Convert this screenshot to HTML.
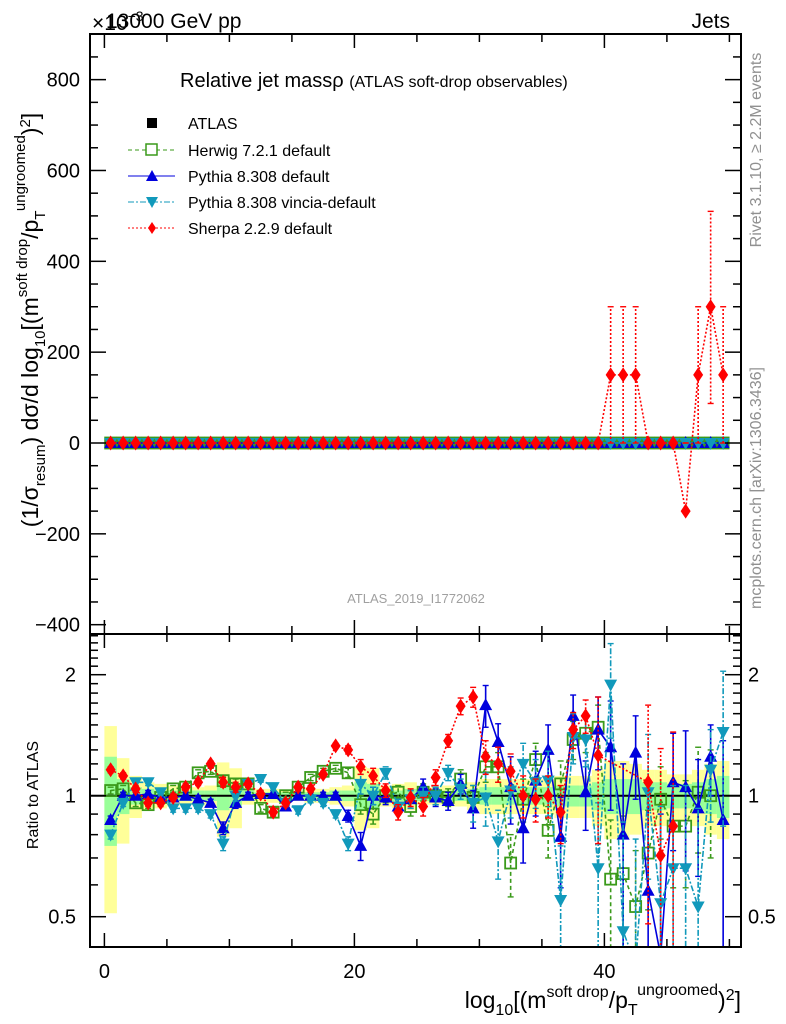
<!DOCTYPE html>
<html><head><meta charset="utf-8"><style>
html,body{margin:0;padding:0;background:#fff;overflow:hidden;width:786px;height:1024px}
svg{display:block;font-family:"Liberation Sans",Arial,sans-serif}
</style></head><body>
<svg id="chart" width="786" height="1024" viewBox="0 0 786 1024" xmlns="http://www.w3.org/2000/svg">
<defs>
<clipPath id="cm"><rect x="90" y="34" width="651" height="600"/></clipPath>
<clipPath id="cr"><rect x="90" y="634" width="651" height="313"/></clipPath>
</defs>
<g id="bands" clip-path="url(#cr)"></g>
<g id="ratio" clip-path="url(#cr)"></g>
<g id="main" clip-path="url(#cm)"></g>
<g id="axes"></g>
<text x="92" y="30" font-size="21">×10<tspan font-size="14" dy="-9">−3</tspan></text>
<text x="106" y="28" font-size="21">13000 GeV pp</text>
<text x="730" y="28" font-size="21" text-anchor="end">Jets</text>
<text x="180" y="87" font-size="20">Relative jet massρ <tspan font-size="16">(ATLAS soft-drop observables)</tspan></text>
<text x="416" y="603" font-size="13" fill="#a0a0a0" text-anchor="middle">ATLAS_2019_I1772062</text>
<text transform="translate(761,150) rotate(-90)" font-size="16" fill="#909090" text-anchor="middle">Rivet 3.1.10, ≥ 2.2M events</text>
<text transform="translate(761,488) rotate(-90)" font-size="16" fill="#909090" text-anchor="middle">mcplots.cern.ch [arXiv:1306.3436]</text>
<text transform="translate(38,320) rotate(-90)" font-size="23" text-anchor="middle">(1/σ<tspan font-size="15" dy="7">resum</tspan><tspan dy="-7">) dσ/d log</tspan><tspan font-size="15" dy="7">10</tspan><tspan dy="-7">[(m</tspan><tspan font-size="15" dy="-11">soft drop</tspan><tspan dy="11">/p</tspan><tspan font-size="15" dy="7">T</tspan><tspan font-size="15" dy="-20">ungroomed</tspan><tspan dy="13">)</tspan><tspan font-size="15" dy="-8">2</tspan><tspan dy="8">]</tspan></text>
<text transform="translate(38,795) rotate(-90)" font-size="16" text-anchor="middle">Ratio to ATLAS</text>
<text x="741" y="1008" font-size="23" text-anchor="end">log<tspan font-size="16" dy="7">10</tspan><tspan dy="-7">[(m</tspan><tspan font-size="16" dy="-11">soft drop</tspan><tspan dy="11">/p</tspan><tspan font-size="16" dy="7">T</tspan><tspan font-size="16" dy="-20">ungroomed</tspan><tspan dy="13">)</tspan><tspan font-size="16" dy="-8">2</tspan><tspan dy="8">]</tspan></text>
<g id="legend">
<rect x="147" y="118" width="10" height="10" fill="#000"/>
<text x="188" y="129" font-size="16">ATLAS</text>
<line x1="128" y1="150" x2="175" y2="150" stroke="#3a9a1a" stroke-dasharray="4,3"/>
<rect x="146" y="144" width="11" height="11" fill="#fff" stroke="#3a9a1a" stroke-width="1.5"/>
<text x="188" y="156" font-size="16">Herwig 7.2.1 default</text>
<line x1="128" y1="176" x2="175" y2="176" stroke="#0000dd"/>
<path d="M152,170 L158,181 L146,181 Z" fill="#0000dd"/>
<text x="188" y="182" font-size="16">Pythia 8.308 default</text>
<line x1="128" y1="202" x2="175" y2="202" stroke="#1199bb" stroke-dasharray="6,2,2,2"/>
<path d="M146,197 L158,197 L152,208 Z" fill="#1199bb"/>
<text x="188" y="208" font-size="16">Pythia 8.308 vincia-default</text>
<line x1="128" y1="228" x2="175" y2="228" stroke="#ff0000" stroke-dasharray="2,2"/>
<path d="M152,222 L156,228 L152,234 L148,228 Z" fill="#ff0000"/>
<text x="188" y="234" font-size="16">Sherpa 2.2.9 default</text>
</g>
</svg>
<script>
// ---------- data ----------
const nBins = 50;
const mainYTicks = [-400, -200, 0, 200, 400, 600, 800];
const xTicks = [0, 20, 40];
const ratioTicks = [0.5, 1, 2];
const ratioTickLabels = ["0.5", "1", "2"];
const atlasMain = new Array(50).fill(0);
const sherpaMain = [0,0,0,0,0,0,0,0,0,0, 0,0,0,0,0,0,0,0,0,0, 0,0,0,0,0,0,0,0,0,0, 0,0,0,0,0,0,0,0,0,0, 150,150,150,0,0,0,-150,150,300,150];
const sherpaMainErrLo = [0,0,0,0,0,0,0,0,0,0, 0,0,0,0,0,0,0,0,0,0, 0,0,0,0,0,0,0,0,0,0, 0,0,0,0,0,0,0,0,0,0, 150,150,150,0,0,0,150,150,213,150];
const sherpaMainErrHi = [0,0,0,0,0,0,0,0,0,0, 0,0,0,0,0,0,0,0,0,0, 0,0,0,0,0,0,0,0,0,0, 0,0,0,0,0,0,0,0,0,0, 150,150,150,0,0,0,150,150,210,150];
const yellowBand = [1.49,1.24,1.12,1.08,1.07,1.06,1.05,1.05,1.06,1.21,1.17,1.05,1.04,1.04,1.03,1.03,1.04,1.04,1.05,1.06,1.18,1.17,1.06,1.07,1.08,1.05,1.05,1.06,1.06,1.08,1.1,1.1,1.1,1.1,1.1,1.1,1.12,1.12,1.12,1.16,1.22,1.22,1.2,1.16,1.16,1.13,1.13,1.16,1.2,1.22];
const greenBand = [1.25,1.10,1.05,1.04,1.03,1.03,1.03,1.03,1.03,1.08,1.06,1.03,1.02,1.02,1.02,1.02,1.02,1.02,1.03,1.03,1.08,1.07,1.03,1.03,1.04,1.03,1.03,1.03,1.03,1.04,1.05,1.05,1.05,1.05,1.05,1.05,1.06,1.06,1.06,1.08,1.1,1.1,1.1,1.08,1.08,1.07,1.07,1.08,1.1,1.12];
const herwigRatio = [1.03,1.04,0.96,0.95,0.99,1.04,1.05,1.14,1.15,1.09,1.07,1.07,0.93,0.91,1.0,1.05,1.11,1.15,1.17,1.14,0.95,0.9,1.0,1.02,0.94,1.02,1.0,0.99,1.10,0.99,1.18,1.18,0.68,0.98,1.23,0.82,1.07,1.38,1.43,1.48,0.62,0.64,0.53,0.72,0.98,0.84,0.84,1.02,1.0,null];
const herwigErr = [0.02,0.02,0.02,0.02,0.02,0.02,0.02,0.02,0.02,0.03,0.03,0.02,0.02,0.02,0.02,0.02,0.02,0.02,0.02,0.03,0.05,0.05,0.04,0.04,0.05,0.05,0.05,0.05,0.06,0.07,0.1,0.1,0.12,0.12,0.12,0.12,0.15,0.15,0.15,0.2,0.25,0.25,0.2,0.2,0.2,0.25,0.25,0.3,0.3,0.3];
const pythiaRatio = [0.87,1.0,1.0,1.01,0.99,0.99,1.0,0.98,0.96,0.83,0.96,1.0,1.01,1.01,0.94,1.0,1.0,1.0,1.0,0.89,0.75,1.0,0.99,0.94,0.98,1.05,0.99,0.97,1.07,0.93,1.68,1.36,1.05,0.83,1.09,1.3,0.79,1.58,1.02,1.46,1.32,0.8,1.28,0.58,0.40,1.08,1.05,0.93,1.25,0.87];
const pythiaErr = [0.02,0.02,0.02,0.02,0.02,0.02,0.02,0.02,0.02,0.03,0.03,0.02,0.02,0.02,0.02,0.02,0.02,0.02,0.02,0.03,0.06,0.05,0.04,0.04,0.05,0.05,0.05,0.05,0.06,0.1,0.2,0.15,0.2,0.15,0.2,0.2,0.2,0.2,0.2,0.3,0.4,0.4,0.3,0.5,0.5,0.35,0.4,0.3,0.25,0.5];
const vinciaRatio = [0.80,0.96,1.08,1.08,1.02,0.93,0.93,0.93,0.90,0.76,1.0,1.07,1.10,1.05,0.96,0.92,0.98,0.96,0.90,0.76,1.07,1.0,1.14,0.94,0.98,1.0,1.0,1.14,1.04,0.96,0.99,0.77,1.03,1.2,1.08,1.09,0.55,1.40,1.38,0.66,1.89,0.46,0.38,1.02,0.54,0.66,0.66,0.53,1.16,1.44];
const vinciaErr = [0.02,0.02,0.02,0.02,0.02,0.02,0.02,0.02,0.02,0.03,0.03,0.02,0.02,0.02,0.02,0.02,0.02,0.02,0.02,0.03,0.06,0.05,0.04,0.04,0.05,0.05,0.05,0.05,0.06,0.1,0.15,0.15,0.15,0.15,0.15,0.2,0.2,0.2,0.2,0.3,0.5,0.4,0.4,0.4,0.4,0.4,0.4,0.4,0.3,0.6];
const sherpaRatio = [1.16,1.12,1.04,0.96,0.96,0.99,1.05,1.08,1.2,1.08,1.05,1.07,1.01,0.91,0.96,1.05,1.04,1.13,1.33,1.30,1.18,1.12,1.03,0.91,0.99,0.94,1.11,1.37,1.67,1.76,1.25,1.2,1.15,1.0,0.98,1.0,0.91,1.46,1.58,1.26,null,null,null,1.08,0.71,0.84,null,null,null,null];
const sherpaErr = [0.02,0.02,0.02,0.02,0.02,0.02,0.02,0.02,0.02,0.03,0.03,0.02,0.02,0.02,0.02,0.02,0.02,0.02,0.02,0.03,0.05,0.05,0.04,0.04,0.05,0.05,0.05,0.05,0.08,0.1,0.12,0.12,0.12,0.12,0.12,0.12,0.15,0.15,0.15,0.5,0,0,0,0.6,0.6,0.6,0,0,0,0];

// ---------- scales ----------
const NS = "http://www.w3.org/2000/svg";
const X0 = 90, X1 = 741, MT = 34, MB = 634, RB = 947;
function xs(v){ return 104.4 + 12.5 * v; }
function ym(v){ return 443 - 0.4542 * v; }
function yr(r){ return 795.7 - 121 * Math.log2(r); }
function mk(tag, attrs, parent){
  const e = document.createElementNS(NS, tag);
  for (const k in attrs) e.setAttribute(k, attrs[k]);
  parent.appendChild(e); return e;
}
const axes = document.getElementById('axes');
const mainG = document.getElementById('main');
const ratioG = document.getElementById('ratio');
const bandG = document.getElementById('bands');

let fr = mk('rect', {x:X0, y:MT, width:X1-X0, height:MB-MT, fill:'none', stroke:'#000', 'stroke-width':2}, axes);


let fr2 = mk('rect', {x:X0, y:MB, width:X1-X0, height:RB-MB, fill:'none', stroke:'#000', 'stroke-width':2}, axes);


for (let v = -400; v <= 850; v += 50) {
  const y = ym(v); if (y < MT || y > MB) continue;
  const major = (v % 200 === 0);
  const L = major ? 16 : 8;
  mk('line', {x1:X0, y1:y, x2:X0+L, y2:y, stroke:'#000', 'stroke-width':1.5}, axes);
  mk('line', {x1:X1-L, y1:y, x2:X1, y2:y, stroke:'#000', 'stroke-width':1.5}, axes);
}
mainYTicks.forEach(v => {
  const t = mk('text', {x:80, y:ym(v)+7, 'font-size':20, 'text-anchor':'end'}, axes);
  t.textContent = (v < 0 ? '\u2212' + (-v) : '' + v);
  
  
});
for (let v = 0; v <= 50; v += 5) {
  const x = xs(v); if (x > X1) continue;
  const L = (v % 20 === 0) ? 14 : 8;
  mk('line', {x1:x, y1:MT, x2:x, y2:MT+L, stroke:'#000', 'stroke-width':1.5}, axes);
  mk('line', {x1:x, y1:MB-L, x2:x, y2:MB+L, stroke:'#000', 'stroke-width':1.5}, axes);
  mk('line', {x1:x, y1:RB-L, x2:x, y2:RB, stroke:'#000', 'stroke-width':1.5}, axes);
}
xTicks.forEach(v => {
  const t = mk('text', {x:xs(v), y:978, 'font-size':20, 'text-anchor':'middle'}, axes);
  t.textContent = '' + v;
  
  
});
[0.5,0.6,0.7,0.8,0.9,1,1.1,1.2,1.3,1.4,1.5,1.6,1.7,1.8,1.9,2,2.1,2.2,2.3,2.4,2.5].forEach(r => {
  const y = yr(r); if (y < MB || y > RB) return;
  const major = ratioTicks.indexOf(r) >= 0;
  const L = major ? 16 : 8;
  mk('line', {x1:X0, y1:y, x2:X0+L, y2:y, stroke:'#000', 'stroke-width':1.5}, axes);
  mk('line', {x1:X1-L, y1:y, x2:X1, y2:y, stroke:'#000', 'stroke-width':1.5}, axes);
});
ratioTicks.forEach((r, i) => {
  const a = mk('text', {x:76, y:yr(r)+7, 'font-size':20, 'text-anchor':'end'}, axes);
  a.textContent = ratioTickLabels[i];
  
  
  const b = mk('text', {x:748, y:yr(r)+7, 'font-size':20}, axes);
  b.textContent = ratioTickLabels[i];
  
  
});

for (let i = 0; i < nBins; i++) {
  const x = xs(i), w = 12.5;
  const yb = mk('rect', {x:x, y:yr(yellowBand[i]), width:w, height:yr(2-yellowBand[i])-yr(yellowBand[i]), fill:'#ffff99'}, bandG);
  
  
}
for (let i = 0; i < nBins; i++) {
  const x = xs(i), w = 12.5;
  const gb = mk('rect', {x:x, y:yr(greenBand[i]), width:w, height:yr(2-greenBand[i])-yr(greenBand[i]), fill:'#99ff99'}, bandG);
  
  
}
mk('line', {x1:X0, y1:yr(1), x2:X1, y2:yr(1), stroke:'#000', 'stroke-width':2}, bandG);

function marker(kind, x, y, g){
  let e;
  if (kind === 'sq') e = mk('rect', {x:x-5, y:y-5, width:10, height:10, fill:'#000'}, g);
  else if (kind === 'osq') e = mk('rect', {x:x-5.5, y:y-5.5, width:11, height:11, fill:'none', stroke:'#3a9a1a', 'stroke-width':1.8}, g);
  else if (kind === 'up') e = mk('path', {d:`M${x},${y-7} L${x+6.5},${y+5} L${x-6.5},${y+5} Z`, fill:'#0000dd'}, g);
  else if (kind === 'dn') e = mk('path', {d:`M${x-6.5},${y-5} L${x+6.5},${y-5} L${x},${y+7} Z`, fill:'#1199bb'}, g);
  else e = mk('path', {d:`M${x},${y-7.5} L${x+5},${y} L${x},${y+7.5} L${x-5},${y} Z`, fill:'#ff0000'}, g);
  
  
}
function series(vals, err, yfun, color, dash, kind, g, name, errLo, errHi){
  let d = '';
  vals.forEach((v, i) => {
    if (v === null) return;
    const x = xs(i + 0.5), y = yfun(v);
    d += (d === '' ? 'M' : 'L') + x + ',' + y + ' ';
  });
  const p = mk('path', {d:d, fill:'none', stroke:color, 'stroke-width':1.6, 'stroke-dasharray':dash}, g);
  
  
  vals.forEach((v, i) => {
    if (v === null) return;
    const x = xs(i + 0.5);
    const lo = errLo ? errLo[i] : (err ? err[i] : 0);
    const hi = errHi ? errHi[i] : (err ? err[i] : 0);
    if (hi > 0 || lo > 0) {
      const y1 = yfun(Math.max(v - lo, 0.01)), y2 = yfun(v + hi);
      const eb = mk('line', {x1:x, y1:y1, x2:x, y2:y2, stroke:color, 'stroke-width':1.6, 'stroke-dasharray':dash}, g);
      
      
      mk('line', {x1:x-3, y1:y1, x2:x+3, y2:y1, stroke:color, 'stroke-width':1.4}, g);
      mk('line', {x1:x-3, y1:y2, x2:x+3, y2:y2, stroke:color, 'stroke-width':1.4}, g);
    }
    marker(kind, x, yfun(v), g);
  });
}
series(atlasMain, null, ym, '#000', 'none', 'sq', mainG, 'atlas');
series(atlasMain, null, ym, '#3a9a1a', '4,3', 'osq', mainG, 'herwig');
series(atlasMain, null, ym, '#0000dd', 'none', 'up', mainG, 'pythia');
series(atlasMain, null, ym, '#1199bb', '6,2,2,2', 'dn', mainG, 'vincia');
series(sherpaMain, null, ym, '#ff0000', '2,2', 'dia', mainG, 'sherpa', sherpaMainErrLo, sherpaMainErrHi);
series(herwigRatio, herwigErr, yr, '#3a9a1a', '4,3', 'osq', ratioG, 'herwig-ratio');
series(pythiaRatio, pythiaErr, yr, '#0000dd', 'none', 'up', ratioG, 'pythia-ratio');
series(vinciaRatio, vinciaErr, yr, '#1199bb', '6,2,2,2', 'dn', ratioG, 'vincia-ratio');
series(sherpaRatio, sherpaErr, yr, '#ff0000', '2,2', 'dia', ratioG, 'sherpa-ratio');
</script>
</body></html>
